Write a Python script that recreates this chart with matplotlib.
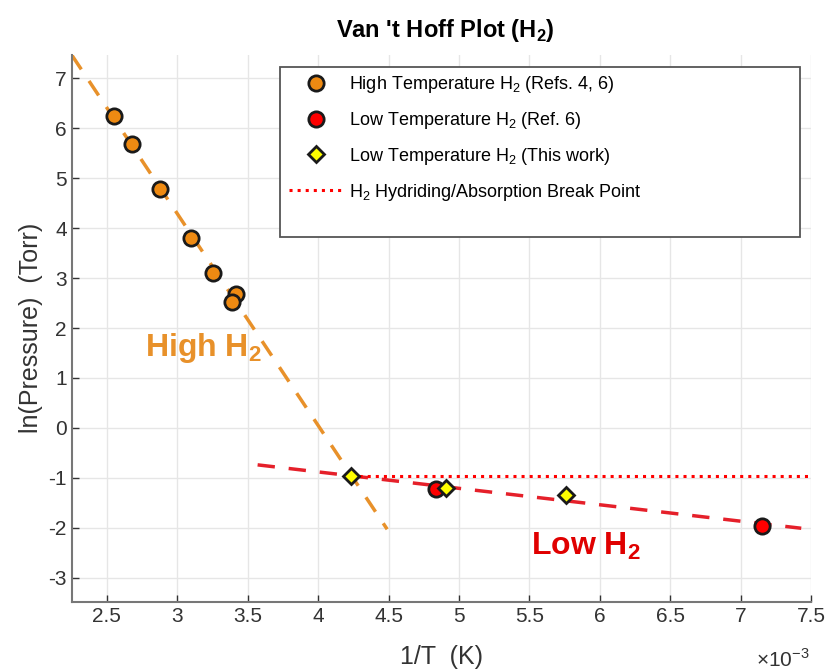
import matplotlib
matplotlib.use("Agg")
import matplotlib.pyplot as plt
from matplotlib.patches import Rectangle
from matplotlib.lines import Line2D

plt.rcParams['font.family'] = ['Liberation Sans', 'DejaVu Sans']
plt.rcParams['mathtext.fontset'] = 'custom'
plt.rcParams['mathtext.rm'] = 'Liberation Sans'
plt.rcParams['mathtext.bf'] = 'Liberation Sans:bold'
plt.rcParams['axes.unicode_minus'] = False

# Data (1/T in units of 1e-3 K^-1, ln(P) in ln(Torr))
high_x = [2.55, 2.68, 2.88, 3.10, 3.25, 3.42, 3.39]
high_y = [6.25, 5.68, 4.78, 3.80, 3.11, 2.69, 2.52]
lowref_x = [4.84, 7.15]
lowref_y = [-1.23, -1.96]
lowwork_x = [4.23, 4.91, 5.76]
lowwork_y = [-0.97, -1.21, -1.34]
high_fit_x = [2.25, 4.49]
high_fit_y = [7.47, -2.03]
low_fit_x = [3.57, 7.43]
low_fit_y = [-0.74, -2.01]
break_x = [4.23, 7.5]
break_y = [-0.97, -0.97]

xticks = [2.5, 3, 3.5, 4, 4.5, 5, 5.5, 6, 6.5, 7, 7.5]
xticklabels = ['2.5', '3', '3.5', '4', '4.5', '5', '5.5', '6', '6.5', '7', '7.5']
yticks = [-3, -2, -1, 0, 1, 2, 3, 4, 5, 6, 7]

ORANGE = '#EE8A12'
ORANGE_LINE = '#E8912A'
RED = '#FF0000'
RED_LINE = '#E5202A'
YELLOW = '#FFFF00'

fig = plt.figure(figsize=(8.28, 6.70), dpi=100)
ax = fig.add_axes([0.0866, 0.102, 0.893, 0.816])

ax.plot(high_fit_x, high_fit_y, '--', color=ORANGE_LINE, lw=2.5, dashes=(5, 4), zorder=2)
ax.plot(low_fit_x, low_fit_y, '--', color=RED_LINE, lw=2.5, dashes=(5, 4), zorder=2)
ax.plot(break_x, break_y, ':', color=RED, lw=2.2, zorder=2)

ax.plot(high_x, high_y, 'o', ms=11, mfc=ORANGE, mec='#1a1a1a', mew=2, zorder=4)
ax.plot(lowref_x, lowref_y, 'o', ms=11, mfc=RED, mec='#1a1a1a', mew=2, zorder=4)
ax.plot(lowwork_x, lowwork_y, 'D', ms=8.5, mfc=YELLOW, mec='#1a1a1a', mew=2, zorder=5)

ax.set_xlim(2.25, 7.5)
ax.set_ylim(-3.48, 7.47)
ax.set_xticks(xticks)
ax.set_xticklabels(xticklabels)
ax.set_yticks(yticks)
ax.tick_params(labelsize=15, colors='#333333', direction='in', length=5, width=1)
ax.grid(True, color='#e6e6e6', lw=1)
ax.set_axisbelow(True)
for s in ['top', 'right']:
    ax.spines[s].set_visible(False)
for s in ['left', 'bottom']:
    ax.spines[s].set_color('#777777')
    ax.spines[s].set_linewidth(1.5)

ax.set_xlabel('1/T  (K)', fontsize=18, color='#333333', labelpad=14)
ax.set_ylabel('ln(Pressure)  (Torr)', fontsize=18, color='#333333', labelpad=4)
fig.text(0.945, 0.005, r'$\times$10$^{-3}$', fontsize=15, color='#333333', ha='center')
fig.text(0.538, 0.945, r"Van 't Hoff Plot (H$_\mathbf{2}$)", fontsize=17, fontweight='bold', ha='center')

ax.text(2.77, 1.6, r'High H$_\mathbf{2}$', fontsize=23, fontweight='bold', color=ORANGE_LINE, ha='left', va='center')
ax.text(5.51, -2.38, r'Low H$_\mathbf{2}$', fontsize=23, fontweight='bold', color='#E00000', ha='left', va='center')

# Legend frame
ax.add_patch(Rectangle((0.2818, 0.667), 0.703, 0.311, transform=ax.transAxes,
                       fill=True, facecolor='white', edgecolor='#555555', lw=1.3, zorder=6))
handles = [
    Line2D([], [], ls='none', marker='o', ms=11, mfc=ORANGE, mec='#1a1a1a', mew=2),
    Line2D([], [], ls='none', marker='o', ms=11, mfc=RED, mec='#1a1a1a', mew=2),
    Line2D([], [], ls='none', marker='D', ms=8.5, mfc=YELLOW, mec='#1a1a1a', mew=2),
    Line2D([], [], ls=':', color=RED, lw=2.2),
]
labels = [
    r'High Temperature H$_2$ (Refs. 4, 6)',
    r'Low Temperature H$_2$ (Ref. 6)',
    r'Low Temperature H$_2$ (This work)',
    r'H$_2$ Hydriding/Absorption Break Point',
]
leg = ax.legend(handles, labels, loc='upper left', bbox_to_anchor=(0.284, 0.978),
                frameon=False, fontsize=13, handlelength=3.0, handletextpad=0.3,
                labelspacing=0.82, borderaxespad=0)
leg.set_zorder(7)

fig.savefig('out.png', dpi=100)
